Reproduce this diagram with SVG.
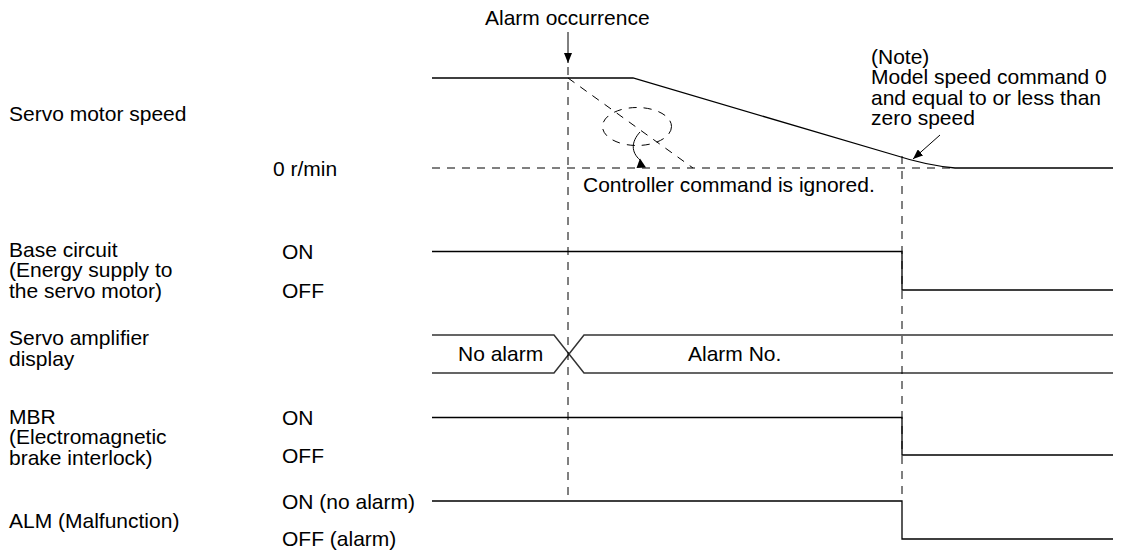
<svg xmlns="http://www.w3.org/2000/svg" width="1122" height="552" viewBox="0 0 1122 552">
<style>
  text { font-family: "Liberation Sans", Arial, sans-serif; font-size: 21px; fill: #000; }
  .sig { fill: none; stroke: #000; stroke-width: 1.3; }
  .disp { fill: none; stroke: #333; stroke-width: 1.5; }
  .dash { fill: none; stroke: #000; stroke-width: 1; stroke-dasharray: 8 7; }
  .arr { fill: none; stroke: #000; stroke-width: 1; }
</style>
<defs>
  <marker id="ah" viewBox="0 0 10 8" refX="10" refY="4" markerWidth="10" markerHeight="8" markerUnits="userSpaceOnUse" orient="auto">
    <path d="M0,0 L10,4 L0,8 Z" fill="#000"/>
  </marker>
</defs>
<rect width="1122" height="552" fill="#fff"/>

<g id="labels">
  <text x="9" y="121">Servo motor speed</text>
  <text x="273" y="175.5">0 r/min</text>
  <text x="9" y="256.5">Base circuit</text>
  <text x="9" y="277">(Energy supply to</text>
  <text x="9" y="297.5">the servo motor)</text>
  <text x="282" y="259">ON</text>
  <text x="282" y="297.5">OFF</text>
  <text x="9" y="345">Servo amplifier</text>
  <text x="9" y="366">display</text>
  <text x="9" y="423.5">MBR</text>
  <text x="9" y="444">(Electromagnetic</text>
  <text x="9" y="464.5">brake interlock)</text>
  <text x="282" y="425">ON</text>
  <text x="282" y="462.5">OFF</text>
  <text x="9" y="527.5">ALM (Malfunction)</text>
  <text x="282" y="508.5">ON (no alarm)</text>
  <text x="282" y="546">OFF (alarm)</text>
</g>

<g id="alarm-occurrence">
  <text x="485" y="25">Alarm occurrence</text>
  <line class="arr" x1="568" y1="32" x2="568" y2="63" marker-end="url(#ah)"/>
</g>

<g id="speed">
  <path class="sig" d="M432,78 L633,78 L896,155.5 Q925,165 955,168 L1113,168"/>
  <line class="dash" x1="432" y1="168" x2="953" y2="168"/>
  <line class="dash" x1="568" y1="78" x2="693" y2="168"/>
  <ellipse class="dash" cx="637" cy="126.5" rx="34.5" ry="19" stroke-dasharray="7 5"/>
  <path class="arr" d="M640,132 C631,142 631,152 640,160"/>
  <polygon points="636.5,168 646,167.5 640,158.5" fill="#000"/>
  <text x="583" y="192">Controller command is ignored.</text>
</g>

<g id="note">
  <text x="871" y="63.5">(Note)</text>
  <text x="871" y="84">Model speed command 0</text>
  <text x="871" y="104.5">and equal to or less than</text>
  <text x="871" y="125">zero speed</text>
  <line class="arr" x1="940" y1="135" x2="913" y2="159" marker-end="url(#ah)"/>
</g>

<g id="base-circuit">
  <path class="sig" d="M432,251.5 L902,251.5 L902,290 L1113,290"/>
</g>

<g id="display">
  <path class="disp" d="M432,335 L554,335 L584,373 L1113,373"/>
  <path class="disp" d="M432,373 L554,373 L584,335 L1113,335"/>
  <text x="458" y="361">No alarm</text>
  <text x="688" y="361">Alarm No.</text>
</g>

<g id="mbr">
  <path class="sig" d="M432,417.5 L902,417.5 L902,455 L1113,455"/>
</g>

<g id="alm">
  <path class="sig" d="M432,501 L902,501 L902,539 L1113,539"/>
</g>

<g id="connectors">
  <line class="dash" x1="568" y1="67" x2="568" y2="501"/>
  <line class="dash" x1="902" y1="156" x2="902" y2="501"/>
</g>
</svg>
